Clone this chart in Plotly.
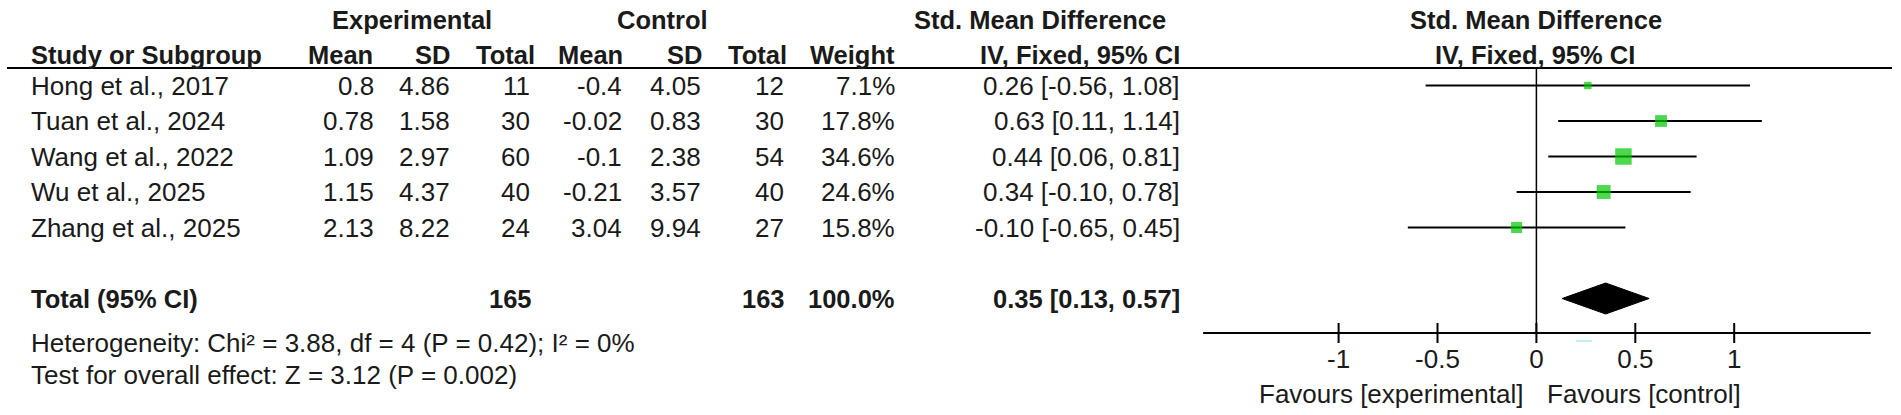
import math
import plotly.graph_objects as go

# ---------------- data ----------------
studies = ["Hong et al., 2017", "Tuan et al., 2024", "Wang et al., 2022",
           "Wu et al., 2025", "Zhang et al., 2025"]
exp_mean = [0.8, 0.78, 1.09, 1.15, 2.13]
exp_sd = [4.86, 1.58, 2.97, 4.37, 8.22]
exp_n = [11, 30, 60, 40, 24]
ctl_mean = [-0.4, -0.02, -0.1, -0.21, 3.04]
ctl_sd = [4.05, 0.83, 2.38, 3.57, 9.94]
ctl_n = [12, 30, 54, 40, 27]
weight = [7.1, 17.8, 34.6, 24.6, 15.8]
smd = [0.26, 0.63, 0.44, 0.34, -0.10]
ci_lo = [-0.56, 0.11, 0.06, -0.10, -0.65]
ci_hi = [1.08, 1.14, 0.81, 0.78, 0.45]

total_exp_n = 165
total_ctl_n = 163
total_weight = 100.0
total_smd = 0.35
total_lo = 0.13
total_hi = 0.57

heterogeneity_text = "Heterogeneity: Chi² = 3.88, df = 4 (P = 0.42); I² = 0%"
overall_text = "Test for overall effect: Z = 3.12 (P = 0.002)"

axis_ticks = [-1, -0.5, 0, 0.5, 1]
axis_tick_labels = ["-1", "-0.5", "0", "0.5", "1"]
axis_extent = [-1.685, 1.69]
favours_left = "Favours [experimental]"
favours_right = "Favours [control]"

# ---------------- layout geometry ----------------
W, H = 1901, 415
ZERO_PX = 1536.4      # pixel x of effect 0
UNIT_PX = 197.8       # pixels per effect unit
ROW0_PX = 85.5        # pixel y of first study row
ROW_STEP = 35.5       # pixel spacing between rows

def ry(px):
    return (px - ROW0_PX) / ROW_STEP

def px_x(px):
    return px / W

FONT = "Liberation Sans, Arial, sans-serif"
FS = 26
FSB = 25.5
TXT = "#1a1a1a"
GREEN = "#00c800"

HDR1, HDR2, HLINE = ry(20), ry(55), ry(68)
TOTAL_ROW = 6
AXIS_Y = ry(333)
TICKLAB_Y = ry(361)
FAV_Y = ry(394)
HET_Y, OVR_Y = ry(343), ry(375)

# column right edges (header, data) in pixels
COLS = {
    "exp_mean": (373, 374), "exp_sd": (450, 450), "exp_n": (535, 530),
    "ctl_mean": (623, 622), "ctl_sd": (702, 701), "ctl_n": (787, 784),
    "weight": (895, 895), "ci": (1180, 1180),
}
NAME_X = 31

fig = go.Figure()

# CI lines
xs, ys = [], []
for i, (lo, hi) in enumerate(zip(ci_lo, ci_hi)):
    xs += [lo, hi, None]
    ys += [i, i, None]
fig.add_trace(go.Scatter(x=xs, y=ys, mode="lines",
                         line=dict(color="black", width=2), hoverinfo="skip"))
# squares
fig.add_trace(go.Scatter(x=smd, y=list(range(len(smd))), mode="markers",
                         marker=dict(symbol="square", color=GREEN,
                                     size=[2.8 * math.sqrt(w) for w in weight],
                                     line=dict(width=0))))
# diamond
dh = 15.5 / ROW_STEP
fig.add_trace(go.Scatter(x=[total_lo, total_smd, total_hi, total_smd, total_lo],
                         y=[TOTAL_ROW, TOTAL_ROW - dh, TOTAL_ROW, TOTAL_ROW + dh, TOTAL_ROW],
                         mode="lines", fill="toself", fillcolor="black",
                         line=dict(color="black", width=1)))
# zero line
fig.add_trace(go.Scatter(x=[0, 0], y=[HLINE, AXIS_Y], mode="lines",
                         line=dict(color="black", width=1.5)))
# axis line
fig.add_trace(go.Scatter(x=axis_extent, y=[AXIS_Y, AXIS_Y], mode="lines",
                         line=dict(color="black", width=2)))
# ticks
tx, ty = [], []
td = 10 / ROW_STEP
for t in axis_ticks:
    tx += [t, t, None]
    ty += [AXIS_Y - td, AXIS_Y + td, None]
fig.add_trace(go.Scatter(x=tx, y=ty, mode="lines", line=dict(color="black", width=2)))
# tick labels
fig.add_trace(go.Scatter(x=axis_ticks, y=[TICKLAB_Y] * len(axis_ticks), mode="text",
                         text=axis_tick_labels, textposition="middle center",
                         textfont=dict(family=FONT, size=FS, color=TXT)))

ann = []

def add(text, xpx, y, anchor="left", bold=False):
    ann.append(dict(text=f"<b>{text}</b>" if bold else text, x=px_x(xpx), y=y,
                    xref="paper", yref="y", xanchor=anchor, yanchor="middle",
                    showarrow=False, borderpad=0, borderwidth=0,
                    font=dict(family=FONT, size=FSB if bold else FS, color=TXT)))

# header row 1
add("Experimental", 412, HDR1, "center", True)
add("Control", 662, HDR1, "center", True)
add("Std. Mean Difference", 1040, HDR1, "center", True)
add("Std. Mean Difference", 1536, HDR1, "center", True)
# header row 2
add("Study or Subgroup", NAME_X, HDR2, "left", True)
add("Mean", COLS["exp_mean"][0], HDR2, "right", True)
add("SD", COLS["exp_sd"][0], HDR2, "right", True)
add("Total", COLS["exp_n"][0], HDR2, "right", True)
add("Mean", COLS["ctl_mean"][0], HDR2, "right", True)
add("SD", COLS["ctl_sd"][0], HDR2, "right", True)
add("Total", COLS["ctl_n"][0], HDR2, "right", True)
add("Weight", COLS["weight"][0], HDR2, "right", True)
add("IV, Fixed, 95% CI", COLS["ci"][0], HDR2, "right", True)
add("IV, Fixed, 95% CI", 1535, HDR2, "center", True)

for i, s in enumerate(studies):
    add(s, NAME_X, i, "left")
    add(f"{exp_mean[i]:g}", COLS["exp_mean"][1], i, "right")
    add(f"{exp_sd[i]:g}", COLS["exp_sd"][1], i, "right")
    add(f"{exp_n[i]}", COLS["exp_n"][1], i, "right")
    add(f"{ctl_mean[i]:g}", COLS["ctl_mean"][1], i, "right")
    add(f"{ctl_sd[i]:g}", COLS["ctl_sd"][1], i, "right")
    add(f"{ctl_n[i]}", COLS["ctl_n"][1], i, "right")
    add(f"{weight[i]:.1f}%", COLS["weight"][1], i, "right")
    add(f"{smd[i]:.2f} [{ci_lo[i]:.2f}, {ci_hi[i]:.2f}]", COLS["ci"][1], i, "right")

add("Total (95% CI)", NAME_X, TOTAL_ROW, "left", True)
add(f"{total_exp_n}", COLS["exp_n"][1] + 2, TOTAL_ROW, "right", True)
add(f"{total_ctl_n}", COLS["ctl_n"][1] + 1, TOTAL_ROW, "right", True)
add(f"{total_weight:.1f}%", COLS["weight"][1], TOTAL_ROW, "right", True)
add(f"{total_smd:.2f} [{total_lo:.2f}, {total_hi:.2f}]", COLS["ci"][1], TOTAL_ROW, "right", True)
add(heterogeneity_text, NAME_X, HET_Y, "left")
add(overall_text, NAME_X, OVR_Y, "left")
add(favours_left, ZERO_PX - 13, FAV_Y, "right")
add(favours_right, ZERO_PX + 11, FAV_Y, "left")

shapes = [
    dict(type="line", xref="paper", yref="y", x0=px_x(7), x1=px_x(1892),
         y0=HLINE, y1=HLINE, line=dict(color="black", width=2)),
    # faint cyan artefact under the axis
    dict(type="line", xref="x", yref="y", x0=0.2, x1=0.28, y0=ry(341), y1=ry(341),
         line=dict(color="#b8f0ff", width=2)),
]

fig.update_layout(
    width=W, height=H, margin=dict(l=0, r=0, t=0, b=0),
    paper_bgcolor="white", plot_bgcolor="white", showlegend=False,
    xaxis=dict(range=[(0 - ZERO_PX) / UNIT_PX, (W - ZERO_PX) / UNIT_PX],
               visible=False, fixedrange=True),
    yaxis=dict(range=[ry(H), ry(0)], visible=False, fixedrange=True),
    annotations=ann, shapes=shapes,
)

fig.write_html("out.html", post_script="document.body.style.margin='0';",
               config={"displayModeBar": False})
